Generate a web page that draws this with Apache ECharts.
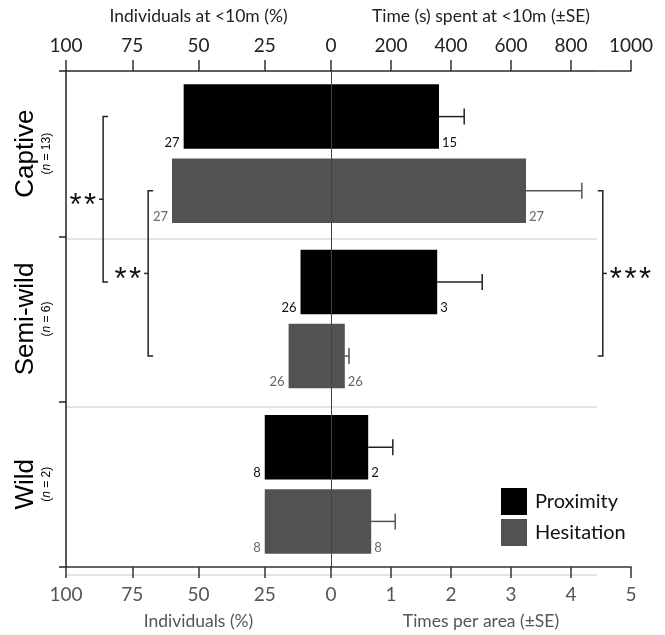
<!DOCTYPE html>
<html>
<head>
<meta charset="utf-8">
<script src="https://cdn.jsdelivr.net/npm/echarts@6/dist/echarts.min.js"></script>
<style>
  html, body { margin: 0; padding: 0; background: #fff; }
  #main { width: 665px; height: 635px; }
</style>
</head>
<body>
<div id="main"></div>
<script>
// groups, top to bottom
var categories = ['Captive', 'Semi-wild', 'Wild'];
var groupSizes = [13, 6, 2];

// left half: individuals (%)
var proxPct = [55.6, 11.5, 25];
var hesPct = [60, 16, 25];
var proxLeftN = [27, 26, 8];
var hesLeftN = [27, 26, 8];

// right half: times per area (±SE)
var proxTimes = [1.8, 1.77, 0.62];
var proxSE = [0.42, 0.75, 0.41];
var hesTimes = [3.25, 0.23, 0.67];
var hesSE = [0.93, 0.07, 0.4];
var proxRightN = [15, 3, 2];
var hesRightN = [27, 26, 8];

// significance brackets: [x value, cat from, bar from, cat to, bar to]
var leftBrackets = [[86, 0, 0, 1, 0], [69, 0, 1, 1, 1]];
var leftStars = ['**', '**'];
var rightBrackets = [[4.53, 0, 1, 1, 1]];
var rightStars = ['***'];

var FONT = 'Lato';
var BAR_W = 0.39, BAR_GAP = 0.15;

function barOffset(api, bar) {
    var band = api.size([0, 1])[1];
    var d = band * BAR_W * (1 + BAR_GAP) / 2;
    return bar === 0 ? -d : d;
}

function errorRender(bar, color) {
    return function (params, api) {
        var cat = api.value(2);
        var p0 = api.coord([api.value(0), cat]);
        var p1 = api.coord([api.value(1), cat]);
        var y = p0[1] + barOffset(api, bar);
        var st = { stroke: color, lineWidth: 1.5 };
        return {
            type: 'group',
            children: [
                { type: 'line', shape: { x1: p0[0], y1: y, x2: p1[0], y2: y }, style: st },
                { type: 'line', shape: { x1: p1[0], y1: y - 8, x2: p1[0], y2: y + 8 }, style: st }
            ]
        };
    };
}

function bracketRender(stars) {
    return function (params, api) {
        var xv = api.value(0);
        var a = api.coord([xv, api.value(1)]);
        var b = api.coord([xv, api.value(3)]);
        var y1 = a[1] + barOffset(api, api.value(2));
        var y2 = b[1] + barOffset(api, api.value(4));
        var zx = api.coord([0, 0])[0];
        var x = a[0];
        var dir = x < zx ? 1 : -1;
        var ym = (y1 + y2) / 2;
        var st = { stroke: '#222', lineWidth: 1.5, fill: null };
        return {
            type: 'group',
            children: [
                { type: 'polyline', shape: { points: [[x + dir * 5, y1], [x, y1], [x, y2], [x + dir * 5, y2]] }, style: st },
                { type: 'line', shape: { x1: x, y1: ym, x2: x - dir * 4, y2: ym }, style: st },
                {
                    type: 'text', x: x - dir * 7, y: ym + 7,
                    style: {
                        text: stars[params.dataIndex].split('').join('\u200A'), fill: '#111',
                        font: '31px "Liberation Sans"',
                        align: dir > 0 ? 'right' : 'left', verticalAlign: 'middle'
                    }
                }
            ]
        };
    };
}

var axisLineStyle = { color: '#333', width: 1.5 };

function valueAxis(grid, pos, inverse, max, step, name, color) {
    return {
        gridIndex: grid, type: 'value', position: pos, inverse: inverse,
        min: 0, max: max, interval: step, z: 3,
        name: name, nameLocation: 'middle', nameGap: pos === 'top' ? 46 : 45,
        nameTextStyle: { fontSize: 17.5, fontFamily: FONT, color: color },
        axisLine: { show: true, onZero: false, lineStyle: axisLineStyle },
        axisTick: { show: true, length: 11, lineStyle: axisLineStyle },
        axisLabel: {
            color: color, margin: pos === 'top' ? 16 : 18, fontSize: 19, fontFamily: FONT,
            showMinLabel: !inverse,
            formatter: function (v) { return String(v); }
        },
        splitLine: { show: false }
    };
}

var option = {
    animation: false,
    grid: [
        { left: 66, top: 71, width: 265, height: 504 },
        { left: 331, top: 71, width: 300, height: 504 },
        { left: 66, top: 71, width: 531, height: 504 }
    ],
    legend: {
        data: ['Proximity', 'Hesitation'],
        orient: 'vertical', left: 501, top: 488, padding: 0,
        itemWidth: 26, itemHeight: 27, itemGap: 4, icon: 'rect',
        textStyle: { fontSize: 20, fontFamily: FONT, color: '#111', padding: [0, 0, 0, 3] }
    },
    xAxis: [
        valueAxis(0, 'bottom', true, 100, 25, 'Individuals (%)', '#555'),
        valueAxis(0, 'top', true, 100, 25, 'Individuals at <10m (%)', '#222'),
        valueAxis(1, 'bottom', false, 5, 1, 'Times per area (±SE)', '#555'),
        valueAxis(1, 'top', false, 1000, 200, 'Time (s) spent at <10m (±SE)', '#222'),
        { gridIndex: 2, type: 'value', min: 0, max: 1, show: false }
    ],
    yAxis: [
        {
            gridIndex: 0, type: 'category', data: categories, inverse: true, z: 3,
            position: 'left',
            axisLine: { show: true, onZero: false, lineStyle: { color: '#222', width: 1.5 } },
            axisTick: { show: true, length: 7, lineStyle: { color: '#222', width: 1.5 } },
            splitLine: { show: false },
            axisLabel: {
                rotate: 90, margin: 12, color: '#000',
                formatter: function (v, i) {
                    return '{t|' + v + '}\n{s|(}{i|n}{s| = ' + groupSizes[i] + ')}';
                },
                rich: {
                    t: { fontSize: 26, fontFamily: 'Liberation Sans', lineHeight: 28, color: '#000' },
                    s: { fontSize: 12, fontFamily: 'Liberation Sans', lineHeight: 14, color: '#000' },
                    i: { fontSize: 12, fontFamily: 'Liberation Sans', fontStyle: 'italic', lineHeight: 14, color: '#000' }
                }
            }
        },
        {
            gridIndex: 1, type: 'category', data: categories, inverse: true, z: 3,
            axisLine: { show: true, onZero: false, lineStyle: { color: '#444', width: 1 } },
            axisTick: { show: false }, axisLabel: { show: false }, splitLine: { show: false }
        },
        {
            gridIndex: 2, type: 'category', data: categories, inverse: true, z: 0,
            axisLine: { show: false }, axisTick: { show: false }, axisLabel: { show: false },
            splitLine: { show: true, lineStyle: { color: '#dadada', width: 1.5 } }
        }
    ],
    series: [
        {
            name: 'Proximity', type: 'bar', xAxisIndex: 0, yAxisIndex: 0, data: proxPct,
            barWidth: '39%', barGap: '15%', itemStyle: { color: '#000' },
            label: {
                show: true, position: 'left', distance: 4, offset: [0, 26],
                fontSize: 13, fontFamily: FONT, color: '#111',
                formatter: function (p) { return proxLeftN[p.dataIndex]; }
            }
        },
        {
            name: 'Hesitation', type: 'bar', xAxisIndex: 0, yAxisIndex: 0, data: hesPct,
            barWidth: '39%', barGap: '15%', itemStyle: { color: '#525252' },
            label: {
                show: true, position: 'left', distance: 4, offset: [0, 26],
                fontSize: 13, fontFamily: FONT, color: '#666',
                formatter: function (p) { return hesLeftN[p.dataIndex]; }
            }
        },
        {
            name: 'Proximity', type: 'bar', xAxisIndex: 2, yAxisIndex: 1, data: proxTimes,
            barWidth: '39%', barGap: '15%', itemStyle: { color: '#000' },
            label: {
                show: true, position: 'right', distance: 3, offset: [0, 26],
                fontSize: 13, fontFamily: FONT, color: '#111',
                formatter: function (p) { return proxRightN[p.dataIndex]; }
            }
        },
        {
            name: 'Hesitation', type: 'bar', xAxisIndex: 2, yAxisIndex: 1, data: hesTimes,
            barWidth: '39%', barGap: '15%', itemStyle: { color: '#525252' },
            label: {
                show: true, position: 'right', distance: 3, offset: [0, 26],
                fontSize: 13, fontFamily: FONT, color: '#666',
                formatter: function (p) { return hesRightN[p.dataIndex]; }
            }
        },
        {
            name: 'Proximity SE', type: 'custom', xAxisIndex: 2, yAxisIndex: 1, z: 3,
            data: proxTimes.map(function (v, i) { return [v, v + proxSE[i], i]; }),
            encode: { x: [0, 1], y: 2 },
            renderItem: errorRender(0, '#222')
        },
        {
            name: 'Hesitation SE', type: 'custom', xAxisIndex: 2, yAxisIndex: 1, z: 3,
            data: hesTimes.map(function (v, i) { return [v, v + hesSE[i], i]; }),
            encode: { x: [0, 1], y: 2 },
            renderItem: errorRender(1, '#555')
        },
        {
            name: 'Left brackets', type: 'custom', xAxisIndex: 0, yAxisIndex: 0, z: 3,
            data: leftBrackets, encode: { x: 0, y: [1, 3] },
            renderItem: bracketRender(leftStars)
        },
        {
            name: 'Right brackets', type: 'custom', xAxisIndex: 2, yAxisIndex: 1, z: 3,
            data: rightBrackets, encode: { x: 0, y: [1, 3] },
            renderItem: bracketRender(rightStars)
        }
    ]
};

var chart = echarts.init(document.getElementById('main'));
chart.setOption(option);
</script>
</body>
</html>
